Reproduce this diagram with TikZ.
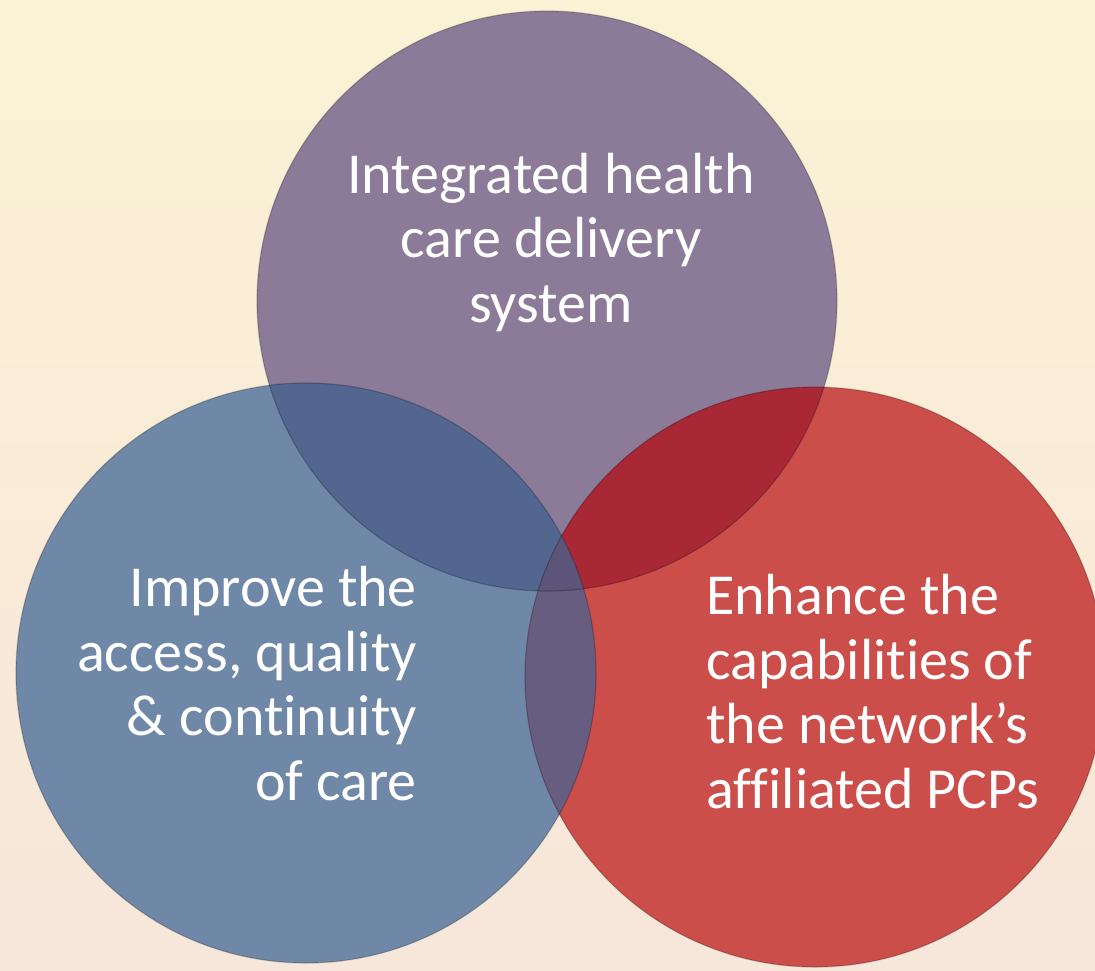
\documentclass[tikz,border=0pt]{standalone}
\usepackage{fontspec}
\setmainfont{Carlito}[Ligatures=NoCommon]

\definecolor{bgpale}{HTML}{FBF2D5}
\definecolor{bgpink}{HTML}{F7E6DA}
\definecolor{purplec}{HTML}{8C7B98}
\definecolor{bluec}{HTML}{7088A8}
\definecolor{redc}{HTML}{CC4E4A}
\definecolor{bluepurp}{HTML}{53668F}
\definecolor{redpurp}{HTML}{A82836}
\definecolor{bluered}{HTML}{675D80}
\definecolor{triplec}{HTML}{5C5579}

\tikzset{venn rim/.style = {line width=1.2pt, draw=black, draw opacity=0.22},
         goal/.style = {text=white, inner sep=0pt,
                        font=\fontsize{58}{64.5}\selectfont}
        }

\begin{document}
\begin{tikzpicture}[x=1pt, y=-1pt]
  \useasboundingbox (0,0) rectangle (1095,970);
  \shade[top color=bgpale, bottom color=bgpink] (0,0) rectangle (1095,970);
  % circle centres
  \coordinate (ctop) at (547,301);
  \coordinate (cleft) at (306,673);
  \coordinate (cright) at (815,677);
  \def\rad{290pt}
  \fill[purplec] (ctop) circle (\rad);
  \fill[bluec] (cleft) circle (\rad);
  \fill[redc] (cright) circle (\rad);
  % overlaps
  \begin{scope}
    \clip (ctop) circle (\rad);
    \fill[bluepurp] (cleft) circle (\rad);
    \fill[redpurp] (cright) circle (\rad);
  \end{scope}
  \begin{scope}
    \clip (cleft) circle (\rad);
    \fill[bluered] (cright) circle (\rad);
    \clip (ctop) circle (\rad);
    \fill[triplec] (cright) circle (\rad);
  \end{scope}
  \foreach \c in {ctop, cleft, cright} {\draw[venn rim] (\c) circle (\rad);};
  % labels (base = last line)
  \node[goal, align=center, anchor=base] (integrated) at (551,322)
    {Integrated health\\care delivery\\system};
  \node[goal, align=right, anchor=base east] (improve) at (417,800)
    {Improve the\\access, quality\\\& continuity\\of care};
  \node[goal, align=left, anchor=base west] (enhance) at (706,808)
    {Enhance the\\capabilities of\\the network’s\\affiliated PCPs};
\end{tikzpicture}
\end{document}
